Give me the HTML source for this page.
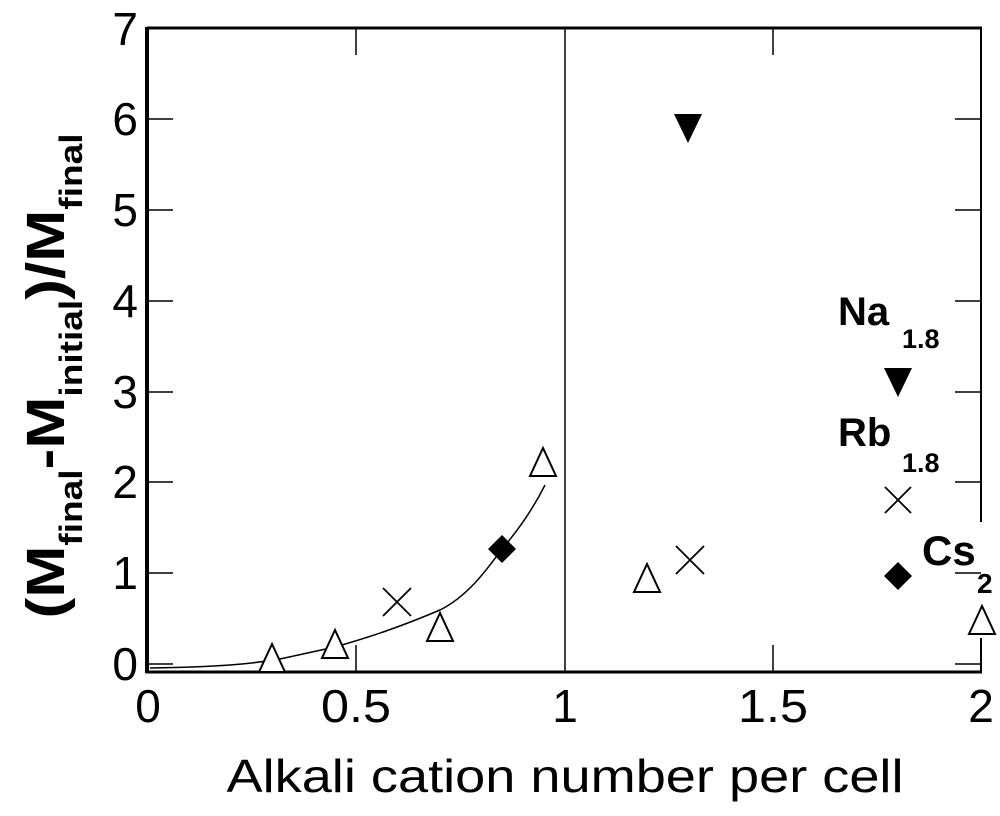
<!DOCTYPE html>
<html><head><style>body{margin:0;background:#fff}</style></head><body>
<svg width="1000" height="811" xmlns="http://www.w3.org/2000/svg" font-family="Liberation Sans, sans-serif">
<rect width="1000" height="811" fill="#fff"/>
<g stroke="#000" fill="none">
<line x1="147" y1="28" x2="982" y2="28" stroke-width="3"/>
<line x1="147" y1="27" x2="147" y2="673" stroke-width="4"/>
<line x1="146" y1="672" x2="982" y2="672" stroke-width="3"/>
<line x1="981" y1="28" x2="981" y2="522" stroke-width="2"/>
<line x1="981" y1="638" x2="981" y2="672" stroke-width="2"/>
<line x1="565" y1="28" x2="565" y2="672" stroke-width="1.5"/>
<g stroke-width="1.5">
<line x1="147" y1="119" x2="173" y2="119"/><line x1="147" y1="210" x2="173" y2="210"/><line x1="147" y1="301" x2="173" y2="301"/><line x1="147" y1="392" x2="173" y2="392"/><line x1="147" y1="482" x2="173" y2="482"/><line x1="147" y1="573" x2="173" y2="573"/><line x1="147" y1="664" x2="173" y2="664"/>
<line x1="955" y1="119" x2="981" y2="119"/><line x1="955" y1="210" x2="981" y2="210"/><line x1="955" y1="301" x2="981" y2="301"/><line x1="955" y1="392" x2="981" y2="392"/><line x1="955" y1="482" x2="981" y2="482"/><line x1="955" y1="573" x2="981" y2="573"/><line x1="955" y1="664" x2="981" y2="664"/>
<line x1="356" y1="672" x2="356" y2="645"/><line x1="356" y1="28" x2="356" y2="55"/>
<line x1="773" y1="672" x2="773" y2="645"/><line x1="773" y1="28" x2="773" y2="55"/>
</g>
<path d="M150,668 C220,667 250,664 280,659 L335,647 C370,637 400,627 440,610 C470,595 490,565 502,549 C520,528 535,505 545,485" stroke-width="1.5"/>
<g stroke-width="2" fill="#fff">
<path d="M272,644 L259,672 L285,672Z"/>
<path d="M335,630 L322,658 L348,658Z"/>
<path d="M440,613 L427,641 L453,641Z"/>
<path d="M543,448 L530,476 L556,476Z"/>
<path d="M647,564 L634,592 L660,592Z"/>
<path d="M982,606 L969,634 L995,634Z"/>
</g>
<g stroke-width="1.8">
<path d="M383,588 L411,616 M411,588 L383,616"/>
<path d="M676,546 L704,574 M704,546 L676,574"/>
<path d="M885,487 L911,513 M911,487 L885,513"/>
</g>
</g>
<g fill="#000">
<path d="M502,535 L516,549 L502,563 L488,549Z"/>
<path d="M898,562 L912,576 L898,590 L884,576Z"/>
<path d="M674,114 L702,114 L688,143Z"/>
<path d="M884,368 L912,368 L898,397Z"/>
</g>
<g font-size="46" text-anchor="middle">
<text x="148" y="722">0</text><text x="356" y="722" textLength="70" lengthAdjust="spacingAndGlyphs">0.5</text><text x="565" y="722">1</text><text x="773" y="722" textLength="70" lengthAdjust="spacingAndGlyphs">1.5</text><text x="981" y="722">2</text>
</g>
<g font-size="46" text-anchor="end">
<text x="138" y="45">7</text><text x="138" y="135">6</text><text x="138" y="226">5</text><text x="138" y="317">4</text><text x="138" y="408">3</text><text x="138" y="498">2</text><text x="138" y="589">1</text><text x="138" y="680">0</text>
</g>
<text x="565" y="792" font-size="46" text-anchor="middle" textLength="677" lengthAdjust="spacingAndGlyphs">Alkali cation number per cell</text>
<text transform="translate(64,376) rotate(-90)" font-size="54" font-weight="bold" text-anchor="middle" textLength="485" lengthAdjust="spacingAndGlyphs">(M<tspan font-size="32" dy="18">final</tspan><tspan dy="-18">-M</tspan><tspan font-size="32" dy="18">initial</tspan><tspan dy="-18">)/M</tspan><tspan font-size="32" dy="18">final</tspan></text>
<g font-weight="bold">
<text x="838" y="325" font-size="40">Na</text><text x="902" y="348" font-size="27">1.8</text>
<text x="838" y="446" font-size="40">Rb</text><text x="902" y="472" font-size="27">1.8</text>
<text x="922" y="565" font-size="42">Cs</text><text x="977" y="593" font-size="28">2</text>
</g>
</svg>
</body></html>
